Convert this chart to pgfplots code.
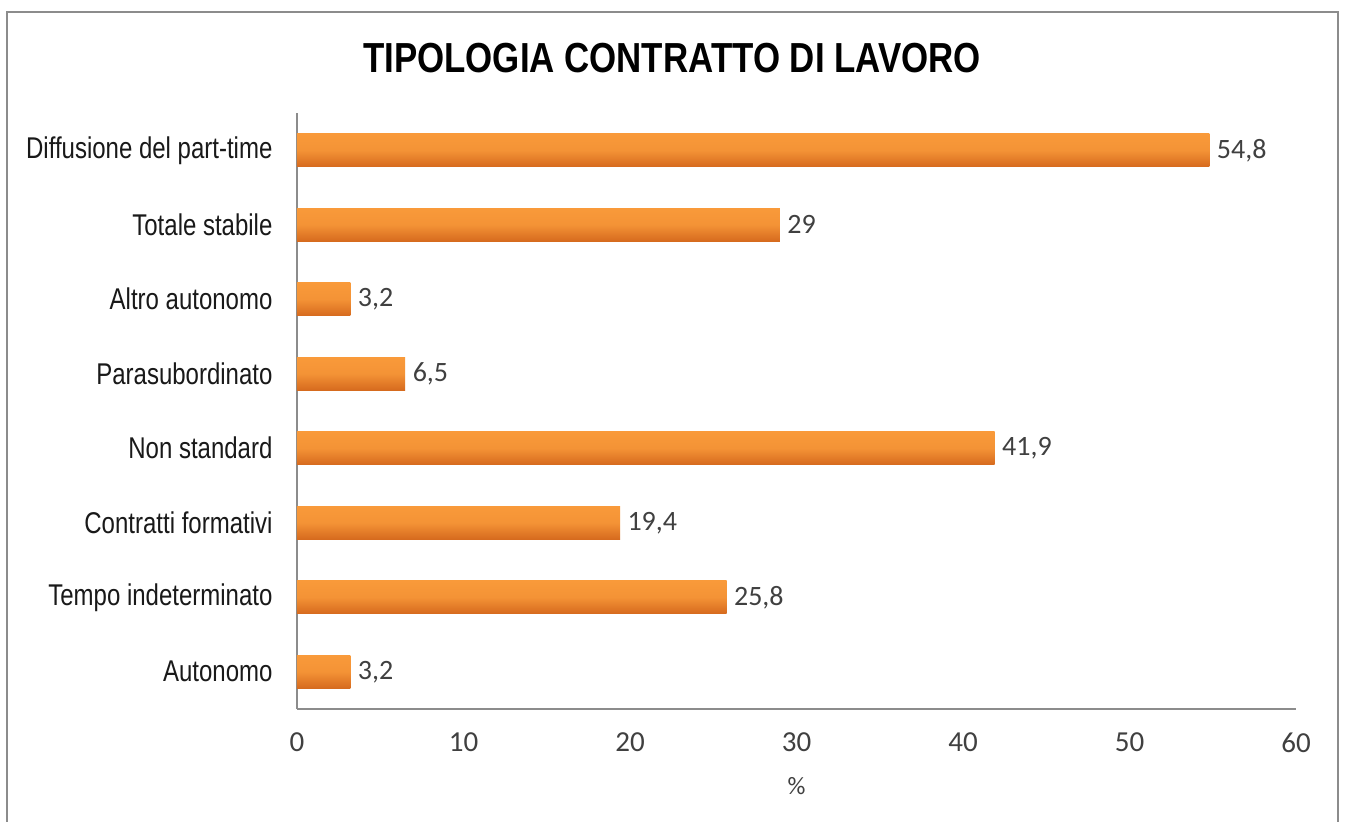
\documentclass[border=0pt]{standalone}
\usepackage{fontspec}
\setmainfont{Carlito}
\newfontfamily\catfont[FakeStretch=0.8]{Liberation Sans}
\newfontfamily\titlefont[FakeStretch=0.83]{Liberation Sans Bold}
\usepackage{pgfplots}
\pgfplotsset{compat=1.18}
\definecolor{barTop}{HTML}{F99A3A}
\definecolor{barBot}{HTML}{D66A1E}
\definecolor{axgray}{HTML}{8C8C8C}
\definecolor{txtgray}{HTML}{404040}
\pgfplotsset{orbar/.style={draw=none, top color=barTop, bottom color=barBot, middle color=barTop!85!barBot, bar shift=0pt}}
\begin{document}
\begin{tikzpicture}[x=1pt,y=1pt]
\useasboundingbox (0,0) rectangle (1345,822);
\fill[white] (0,0) rectangle (1345,822);
\draw[axgray, line width=2pt] (7,-10) -- (7,810) -- (1338,810) -- (1338,-10);
\node[font=\titlefont\fontsize{42}{48}\selectfont, text=black] at (672,764) {TIPOLOGIA CONTRATTO DI LAVORO};
\begin{axis}[
  at={(297pt,113pt)}, anchor=south west,
  scale only axis, width=999pt, height=596pt,
  xmin=0, xmax=60, ymin=-0.5, ymax=7.5,
  xtick={0,10,...,60},
  ytick={0,...,7},
  yticklabels={Autonomo, Tempo indeterminato, Contratti formativi, Non standard, Parasubordinato, Altro autonomo, Totale stabile, Diffusione del part-time},
  axis x line*=bottom, axis y line*=left,
  axis line style={axgray, line width=1.5pt, -},
  major tick length=0pt,
  /pgf/number format/assume math mode=true,
  /pgf/number format/use comma,
  xticklabel style={font=\fontsize{29}{33}\selectfont, text=txtgray, yshift=-20pt},
  yticklabel style={font=\catfont\fontsize{30}{34}\selectfont, text=black!90, xshift=-21pt},
  xlabel={\%},
  xlabel style={font=\fontsize{25}{28}\selectfont, text=txtgray, yshift=-18pt},
  xbar, bar width=33pt,
  nodes near coords,
  every node near coord/.append style={font=\fontsize{28}{32}\selectfont, text=txtgray, anchor=west, xshift=4pt},
  clip=false,
]
\addplot[orbar] coordinates {(3.2,0)};
\addplot[orbar] coordinates {(25.8,1)};
\addplot[orbar] coordinates {(19.4,2)};
\addplot[orbar] coordinates {(41.9,3)};
\addplot[orbar] coordinates {(6.5,4)};
\addplot[orbar] coordinates {(3.2,5)};
\addplot[orbar] coordinates {(29,6)};
\addplot[orbar] coordinates {(54.8,7)};
\end{axis}
\end{tikzpicture}
\end{document}
